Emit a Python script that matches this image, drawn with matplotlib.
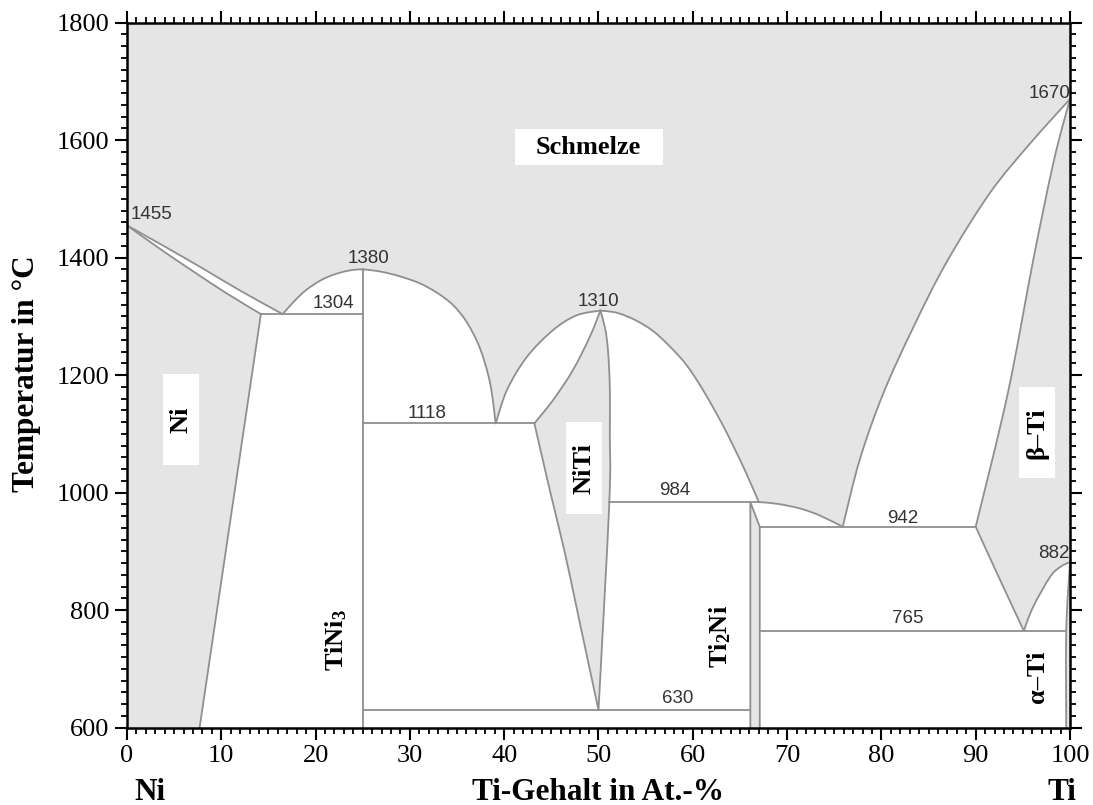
import matplotlib
matplotlib.use('Agg')
import matplotlib.pyplot as plt
from matplotlib.patches import Rectangle, PathPatch
from matplotlib.path import Path
from matplotlib.ticker import MultipleLocator

plt.rcParams['mathtext.fontset'] = 'custom'
plt.rcParams['mathtext.rm'] = 'Liberation Serif:bold'
plt.rcParams['mathtext.it'] = 'Liberation Serif:bold'
plt.rcParams['mathtext.bf'] = 'Liberation Serif:bold'

# ---------------- data (x: at.-% Ti, y: temperature in C) ----------------
ni_liq_x = [0, 4, 8, 12, 16.5]
ni_liq_y = [1455, 1419, 1382, 1344, 1304]
ni_sol_x = [0, 3.5, 7, 10.5, 14.2]
ni_sol_y = [1455, 1415, 1377, 1340, 1304]
ni_solvus_x = [14.2, 7.7]
ni_solvus_y = [1304, 600]

tini3_dome_x = [16.5, 17.8, 19.0, 20.5, 21.9, 23.5, 25.0, 27.0, 29.0, 31.1, 33.0, 34.6, 36.0, 37.4, 38.5, 39.1]
tini3_dome_y = [1304, 1327, 1345, 1361, 1371, 1378, 1380, 1376, 1368, 1356, 1339, 1319, 1291, 1247, 1187, 1118]
TINI3_PEAK = 6

niti_liq_l_x = [39.1, 40.3, 42.4, 45.2, 47.7, 50.2]
niti_liq_l_y = [1118, 1175, 1231, 1277, 1302, 1310]
niti_sol_l_x = [43.2, 45.2, 47.3, 49.1, 50.2]
niti_sol_l_y = [1118, 1158, 1209, 1266, 1310]
niti_solv_l_x = [43.2, 44.9, 46.4, 47.8, 50.0]
niti_solv_l_y = [1118, 1000, 900, 795, 630]
niti_r_x = [50.2, 50.7, 51.0, 51.2, 51.2, 51.15, 50.0]
niti_r_y = [1310, 1280, 1243, 1180, 1100, 984, 630]
NITI_R_984 = 5

niti_liq_r_x = [50.2, 52.0, 54.0, 55.8, 57.5, 59.3, 61.0, 62.5, 63.6, 64.7, 65.7, 67.0]
niti_liq_r_y = [1310, 1306, 1293, 1275, 1250, 1218, 1177, 1135, 1102, 1066, 1032, 984]

ti2ni_liq_x = [67.0, 69.0, 71.4, 73.5, 75.9]
ti2ni_liq_y = [984, 981, 973, 961, 942]

beta_liq_x = [75.9, 77.7, 80.2, 83.4, 86.9, 91.5, 95.8, 100.0]
beta_liq_y = [942, 1056, 1169, 1282, 1392, 1510, 1595, 1670]
beta_sol_x = [90.0, 93.4, 96.1, 98.3, 100.0]
beta_sol_y = [942, 1169, 1396, 1566, 1670]
beta_solv_x = [90.0, 92.6, 95.1]
beta_solv_y = [942, 851, 765]
ab_x = [95.1, 96.1, 97.9, 99.0, 100.0]
ab_y = [765, 806, 857, 874, 882]
alpha_x = [99.6, 99.6, 100.0]
alpha_y = [600, 765, 882]

ti2ni_left = 66.1
ti2ni_right = 67.1

# invariant lines: (x_start, x_end, temperature)
iso_x0 = [14.2, 25.0, 51.15, 67.1, 67.1, 25.0]
iso_x1 = [25.0, 43.2, 67.0, 90.0, 99.6, 66.1]
iso_t = [1304, 1118, 984, 942, 765, 630]

# temperature annotations
ann_text = ['1455', '1380', '1304', '1118', '1310', '984', '942', '765', '630', '882', '1670']
ann_x = [0.4, 25.6, 21.9, 31.8, 50.0, 58.1, 82.3, 82.8, 58.4, 100.0, 100.0]
ann_y = [1473, 1399, 1322, 1135, 1325, 1004, 956, 786, 650, 896, 1680]
ann_ha = ['left', 'center', 'center', 'center', 'center', 'center', 'center', 'center', 'center', 'right', 'right']

# phase labels (rotated)
ph_text = ['Ni', 'TiNi$_3$', 'NiTi', 'Ti$_2$Ni', 'β–Ti', 'α–Ti']
ph_x = [5.7, 22.2, 48.5, 62.9, 96.5, 96.6]
ph_y = [1124, 749, 1042, 755, 1102, 687]
ph_box = [True, False, True, False, True, False]

xticks = list(range(0, 101, 10))
yticks = list(range(600, 1801, 200))

GRAY = '#e5e5e5'
LINE = '#8f8f8f'
LW = 1.3


def chain(xs, ys):
    """Cubic Bezier chain (Catmull-Rom handles) through the given points."""
    P = list(zip(xs, ys))
    n = len(P)
    out = [P[0]]
    for i in range(n - 1):
        p0 = P[i - 1] if i > 0 else P[i]
        p1, p2 = P[i], P[i + 1]
        p3 = P[i + 2] if i + 2 < n else P[i + 1]
        c1 = (p1[0] + (p2[0] - p0[0]) / 6, p1[1] + (p2[1] - p0[1]) / 6)
        c2 = (p2[0] - (p3[0] - p1[0]) / 6, p2[1] - (p3[1] - p1[1]) / 6)
        out += [c1, c2, p2]
    return out


def lines(xs, ys):
    out = [(xs[0], ys[0])]
    for i in range(len(xs) - 1):
        a, b = (xs[i], ys[i]), (xs[i + 1], ys[i + 1])
        out += [a, b, b]
    return out


def region(*parts):
    verts = list(parts[0])
    codes = [Path.MOVETO] + [Path.CURVE4] * (len(parts[0]) - 1)
    for p in parts[1:]:
        if tuple(p[0]) != tuple(verts[-1]):
            verts.append(p[0])
            codes.append(Path.LINETO)
        verts += list(p[1:])
        codes += [Path.CURVE4] * (len(p) - 1)
    verts.append(verts[0])
    codes.append(Path.CLOSEPOLY)
    return Path(verts, codes)


def curve_path(c):
    return Path(c, [Path.MOVETO] + [Path.CURVE4] * (len(c) - 1))


C_ni_liq = chain(ni_liq_x, ni_liq_y)
C_ni_sol = chain(ni_sol_x, ni_sol_y)
C_ni_solvus = chain(ni_solvus_x, ni_solvus_y)
C_tini3 = chain(tini3_dome_x, tini3_dome_y)
C_tini3_l = C_tini3[:3 * TINI3_PEAK + 1]
C_tini3_r = C_tini3[3 * TINI3_PEAK:]
C_niti_liq_l = chain(niti_liq_l_x, niti_liq_l_y)
C_niti_sol_l = chain(niti_sol_l_x, niti_sol_l_y)
C_niti_solv_l = chain(niti_solv_l_x, niti_solv_l_y)
C_niti_r = chain(niti_r_x, niti_r_y)
C_niti_r_up = C_niti_r[:3 * NITI_R_984 + 1]
C_niti_r_lo = C_niti_r[3 * NITI_R_984:]
C_niti_liq_r = chain(niti_liq_r_x, niti_liq_r_y)
C_ti2ni_liq = chain(ti2ni_liq_x, ti2ni_liq_y)
C_beta_liq = chain(beta_liq_x, beta_liq_y)
C_beta_sol = chain(beta_sol_x, beta_sol_y)
C_beta_solv = chain(beta_solv_x, beta_solv_y)
C_ab = chain(ab_x, ab_y)
C_alpha = chain(alpha_x, alpha_y)

fig = plt.figure(figsize=(10.93, 8.05), dpi=100)
ax = fig.add_axes([0.11619, 0.09603, 0.86277, 0.87578])
ax.set_facecolor(GRAY)
ax.set_xlim(0, 100)
ax.set_ylim(600, 1800)

R = lambda c: c[::-1]
regions = [
    region(C_ni_liq, lines([16.5, 14.2], [1304, 1304]), R(C_ni_sol)),
    region(lines([14.2, 25, 25, 7.7], [1304, 1304, 600, 600]), R(C_ni_solvus)),
    region(C_tini3_l, lines([25, 25], [1380, 1304])),
    region(C_tini3_r, lines([39.1, 25], [1118, 1118])),
    region(lines([25, 43.2], [1118, 1118]), C_niti_solv_l,
           lines([50.0, ti2ni_left, ti2ni_left, 25], [630, 630, 600, 600])),
    region(C_niti_liq_l, R(C_niti_sol_l)),
    region(C_niti_liq_r, lines([67.0, 51.15], [984, 984]), R(C_niti_r_up)),
    region(lines([51.15, ti2ni_left, ti2ni_left, 50.0], [984, 984, 630, 630]), R(C_niti_r_lo)),
    region(lines([ti2ni_left, 67.0], [984, 984]), C_ti2ni_liq, lines([75.9, ti2ni_right], [942, 942])),
    region(lines([ti2ni_right, 90.0], [942, 942]), C_beta_solv,
           lines([95.1, 99.6, 99.6, ti2ni_right], [765, 765, 600, 600])),
    region(C_beta_liq, R(C_beta_sol)),
    region(C_ab, lines([100.0, 99.6], [882, 765])),
]
for p in regions:
    ax.add_patch(PathPatch(p, facecolor='white', edgecolor='white', lw=0.4, zorder=1))

for c in [C_ni_liq, C_ni_sol, C_ni_solvus, C_tini3, C_niti_liq_l, C_niti_sol_l, C_niti_solv_l,
          C_niti_r, C_niti_liq_r, C_ti2ni_liq, C_beta_liq, C_beta_sol, C_beta_solv, C_ab, C_alpha]:
    ax.add_patch(PathPatch(curve_path(c), facecolor='none', edgecolor=LINE, lw=LW, zorder=2,
                           joinstyle='round', capstyle='round'))

L = dict(color=LINE, lw=LW, zorder=2, solid_joinstyle='round')
for x0, x1, t in zip(iso_x0, iso_x1, iso_t):
    ax.plot([x0, x1], [t, t], **L)
ax.plot([25, 25], [600, 1380], **L)
ax.plot([ti2ni_left, ti2ni_left, ti2ni_right, ti2ni_right], [600, 984, 942, 600], **L)

for t, x, y, ha in zip(ann_text, ann_x, ann_y, ann_ha):
    ax.text(x, y, t, ha=ha, va='center', fontsize=13.5, color='#333333',
            family='Liberation Sans', zorder=5)

# label boxes
box_w = 3.8
box_h = 155
for t, x, y, b in zip(ph_text, ph_x, ph_y, ph_box):
    if b:
        ax.add_patch(Rectangle((x - box_w / 2, y - box_h / 2), box_w, box_h,
                               facecolor='white', edgecolor='none', zorder=4))
    ax.text(x, y, t, rotation=90, ha='center', va='center', fontsize=19,
            fontweight='bold', family='Liberation Serif', zorder=5)

ax.add_patch(Rectangle((41.1, 1557), 15.7, 62, facecolor='white', edgecolor='none', zorder=4))
ax.text(48.95, 1588, 'Schmelze', ha='center', va='center', fontsize=19,
        fontweight='bold', family='Liberation Serif', zorder=5)

# axes styling
ax.set_xticks(xticks)
ax.set_yticks(yticks)
ax.xaxis.set_minor_locator(MultipleLocator(1))
ax.yaxis.set_minor_locator(MultipleLocator(20))
ax.tick_params(which='both', direction='out', top=True, right=True, color='black')
ax.tick_params(which='major', length=8.5, width=1.5, labelsize=19, pad=4)
ax.tick_params(which='minor', length=4.5, width=1.3)
for lab in ax.get_xticklabels() + ax.get_yticklabels():
    lab.set_family('Liberation Serif')
for s in ax.spines.values():
    s.set_linewidth(1.8)
    s.set_zorder(6)

fig.text(27 / 1093, 1 - 373.5 / 805, 'Temperatur in °C', rotation=90, ha='center', va='center',
         fontsize=22.5, fontweight='bold', family='Liberation Serif')
fig.text(598 / 1093, 1 - 800 / 805, 'Ti-Gehalt in At.-%', ha='center', va='baseline',
         fontsize=22.5, fontweight='bold', family='Liberation Serif')
fig.text(150 / 1093, 1 - 800 / 805, 'Ni', ha='center', va='baseline',
         fontsize=22.5, fontweight='bold', family='Liberation Serif')
fig.text(1062 / 1093, 1 - 800 / 805, 'Ti', ha='center', va='baseline',
         fontsize=22.5, fontweight='bold', family='Liberation Serif')

fig.savefig('out.png', dpi=100)
